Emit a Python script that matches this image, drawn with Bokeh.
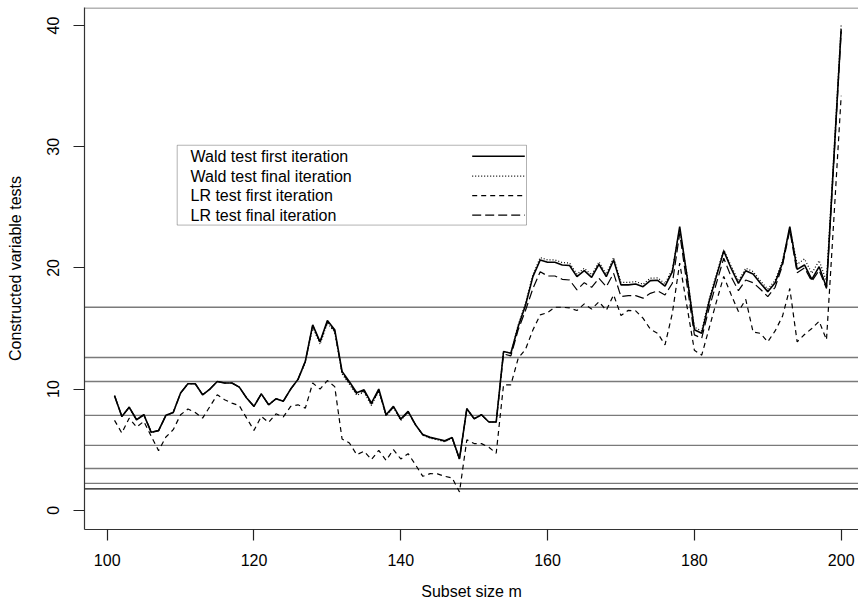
from bokeh.plotting import figure
from bokeh.models import Range1d, FixedTicker, Span, Label, BoxAnnotation, Arrow
from bokeh.embed import file_html
from bokeh.resources import INLINE

# ---------------- data ----------------
m = list(range(101, 201))

wald_first = [9.45, 7.74, 8.50, 7.47, 7.88, 6.43, 6.57, 7.83, 8.07, 9.67,
              10.44, 10.44, 9.53, 10.00, 10.63, 10.50, 10.50, 10.16, 9.26, 8.57,
              9.60, 8.70, 9.20, 9.00, 10.00, 10.80, 12.30, 15.30, 13.90, 15.65,
              14.90, 11.45, 10.60, 9.70, 9.94, 8.84, 10.00, 7.88, 8.57, 7.52,
              8.16, 7.06, 6.24, 6.02, 5.88, 5.74, 6.00, 4.23, 8.38, 7.55,
              7.88, 7.28, 7.28, 13.10, 12.96, 15.16, 16.94, 19.28, 20.65, 20.46,
              20.46, 20.24, 20.20, 19.28, 19.77, 19.22, 20.30, 19.28, 20.65, 18.60,
              18.60, 18.67, 18.45, 18.95, 18.98, 18.50, 19.70, 23.40, 19.30, 14.90,
              14.60, 17.20, 19.30, 21.40, 19.97, 18.73, 19.77, 19.50, 18.73, 18.04,
              18.78, 20.38, 23.40, 19.88, 20.24, 19.06, 20.10, 18.40, 29.00, 39.70]

wald_final = [9.45, 7.74, 8.50, 7.47, 7.88, 6.43, 6.57, 7.83, 8.07, 9.67,
              10.44, 10.44, 9.53, 10.00, 10.63, 10.50, 10.50, 10.16, 9.26, 8.57,
              9.60, 8.70, 9.20, 9.00, 10.00, 10.80, 12.20, 15.10, 13.70, 15.45,
              14.70, 11.25, 10.40, 9.50, 9.74, 8.64, 9.85, 7.78, 8.47, 7.42,
              8.10, 7.06, 6.20, 5.95, 5.80, 5.66, 5.94, 4.23, 8.38, 7.55,
              7.88, 7.28, 7.28, 13.10, 12.96, 15.30, 17.10, 19.45, 20.85, 20.66,
              20.66, 20.44, 20.40, 19.48, 19.97, 19.42, 20.50, 19.48, 20.85, 18.80,
              18.80, 18.87, 18.65, 19.15, 19.18, 18.70, 19.90, 23.20, 19.40, 15.10,
              14.80, 17.40, 19.50, 21.50, 20.17, 18.93, 19.97, 19.70, 18.93, 18.24,
              18.98, 20.58, 23.30, 20.30, 20.74, 19.56, 20.60, 18.90, 29.40, 40.10]

lr_first = [7.42, 6.37, 7.60, 6.87, 7.33, 6.10, 4.92, 6.04, 6.65, 7.88,
            8.35, 8.07, 7.60, 8.57, 9.53, 9.12, 8.84, 8.63, 7.60, 6.59,
            7.74, 7.25, 7.96, 7.70, 8.57, 8.70, 8.43, 10.50, 10.00, 10.70,
            10.20, 5.88, 5.55, 4.59, 4.86, 4.18, 4.94, 4.12, 5.00, 4.23,
            4.67, 3.76, 2.80, 3.02, 3.00, 2.80, 2.67, 1.51, 5.82, 5.50,
            5.50, 5.20, 4.70, 10.35, 10.35, 12.55, 13.29, 14.88, 16.12, 16.31,
            16.75, 16.75, 16.70, 16.48, 17.03, 16.60, 17.20, 16.50, 17.77, 16.07,
            16.50, 16.45, 15.85, 14.94, 14.60, 13.65, 16.26, 20.40, 16.80, 13.20,
            12.80, 15.00, 17.20, 19.30, 17.80, 16.40, 17.40, 14.70, 14.60, 13.90,
            14.80, 16.00, 18.30, 13.90, 14.50, 15.00, 15.60, 14.06, 24.00, 34.20]

lr_final = [9.45, 7.74, 8.50, 7.47, 7.88, 6.43, 6.57, 7.83, 8.07, 9.67,
            10.44, 10.44, 9.53, 10.00, 10.63, 10.50, 10.50, 10.16, 9.26, 8.57,
            9.60, 8.70, 9.20, 9.00, 10.00, 10.80, 12.30, 15.25, 13.85, 15.55,
            14.80, 11.35, 10.50, 9.60, 9.84, 8.74, 9.90, 7.83, 8.52, 7.47,
            8.12, 7.06, 6.22, 5.98, 5.84, 5.70, 5.97, 4.23, 8.38, 7.55,
            7.88, 7.28, 7.28, 12.90, 12.74, 14.90, 16.50, 18.30, 19.69, 19.33,
            19.33, 19.06, 19.00, 18.18, 18.78, 18.40, 19.14, 18.45, 19.55, 17.63,
            17.71, 17.71, 17.50, 17.90, 18.10, 17.77, 18.73, 22.85, 18.60, 14.47,
            14.20, 16.67, 18.73, 20.80, 19.28, 18.12, 19.00, 18.78, 18.24, 17.63,
            18.40, 20.20, 23.10, 19.60, 20.00, 18.90, 19.80, 18.30, 28.80, 39.50]

thresholds_grey = [16.75, 12.60, 10.63, 7.83, 5.35, 3.45, 2.22]
threshold_dark = [1.76]

x_ticks = [100, 120, 140, 160, 180, 200]
y_ticks = [0, 10, 20, 30, 40]

legend_labels = ["Wald test first iteration", "Wald test final iteration",
                 "LR test first iteration", "LR test final iteration"]

# ---------------- layout ----------------
FONT = "Liberation Sans"
W, H = 858, 602
FL, FR, FT, FB = 84, 858, 7, 530   # frame edges in canvas pixels
X0, X1 = 96.91, 202.36
Y0, Y1 = -1.59, 41.49


def sx(px):
    return X0 + (px - FL) / (FR - FL) * (X1 - X0)


def sy(py):
    return Y1 - (py - FT) / (FB - FT) * (Y1 - Y0)


p = figure(width=W, height=H, output_backend="svg", toolbar_location=None,
           x_range=Range1d(X0, X1), y_range=Range1d(Y0, Y1),
           min_border_left=FL, min_border_right=W - FR,
           min_border_top=FT, min_border_bottom=H - FB)
p.outline_line_color = None
p.xgrid.visible = False
p.ygrid.visible = False
p.background_fill_color = "white"
p.border_fill_color = "white"

for ax in (p.xaxis[0], p.yaxis[0]):
    ax.axis_line_color = "#333333"
    ax.axis_line_width = 1.2
    ax.major_tick_line_color = "#222222"
    ax.major_tick_line_width = 1.2
    ax.major_tick_in = 0
    ax.major_tick_out = 11
    ax.minor_tick_line_color = None
    ax.major_label_text_font = FONT
    ax.major_label_text_font_size = "16px"
    ax.major_label_text_color = "black"
    ax.axis_label_text_font = FONT
    ax.axis_label_text_font_size = "16px"
    ax.axis_label_text_font_style = "normal"
    ax.axis_label_text_color = "black"

p.xaxis.ticker = FixedTicker(ticks=x_ticks)
p.yaxis.ticker = FixedTicker(ticks=y_ticks)
p.xaxis.axis_label = "Subset size m"
p.yaxis.axis_label = "Constructed variable tests"
p.yaxis.major_label_orientation = "vertical"
p.xaxis.major_label_standoff = 13
p.xaxis.axis_label_standoff = 14
p.yaxis.major_label_standoff = 14
p.yaxis.axis_label_standoff = 21

# top border of the box
p.add_layout(Span(location=Y1 - 0.04, dimension="width", line_color="#666666", line_width=1))

for v in thresholds_grey:
    p.add_layout(Span(location=v, dimension="width", line_color="#7a7a7a",
                      line_width=1.4, level="underlay"))
for v in threshold_dark:
    p.add_layout(Span(location=v, dimension="width", line_color="#111111",
                      line_width=1.2, level="underlay"))

styles = [dict(line_dash="solid", line_width=1.6),
          dict(line_dash="1 2", line_width=1.2),
          dict(line_dash="5 4", line_width=1.2),
          dict(line_dash="9 4", line_width=1.2)]
series = [wald_first, wald_final, lr_first, lr_final]

for ys, st in zip(series[::-1], styles[::-1]):
    p.line(m, ys, line_color="black", **st)

# ---------------- legend ----------------
p.add_layout(BoxAnnotation(left=sx(176.7), right=sx(526), top=sy(145), bottom=sy(225),
                           fill_color="white", fill_alpha=1.0,
                           line_color="black", line_width=1, level="overlay"))
row_y = [156, 176, 195.5, 215]
for lab, ry, st in zip(legend_labels, row_y, styles):
    p.add_layout(Label(x=sx(190), y=sy(ry), text=lab, text_font=FONT,
                       text_font_size="16px", text_baseline="middle",
                       text_color="black", level="overlay"))
    p.add_layout(Arrow(end=None, x_start=sx(471.7), y_start=sy(ry), x_end=sx(524.3),
                       y_end=sy(ry), line_color="black", level="overlay", **st))

open("out.html", "w").write(file_html(p, INLINE))
